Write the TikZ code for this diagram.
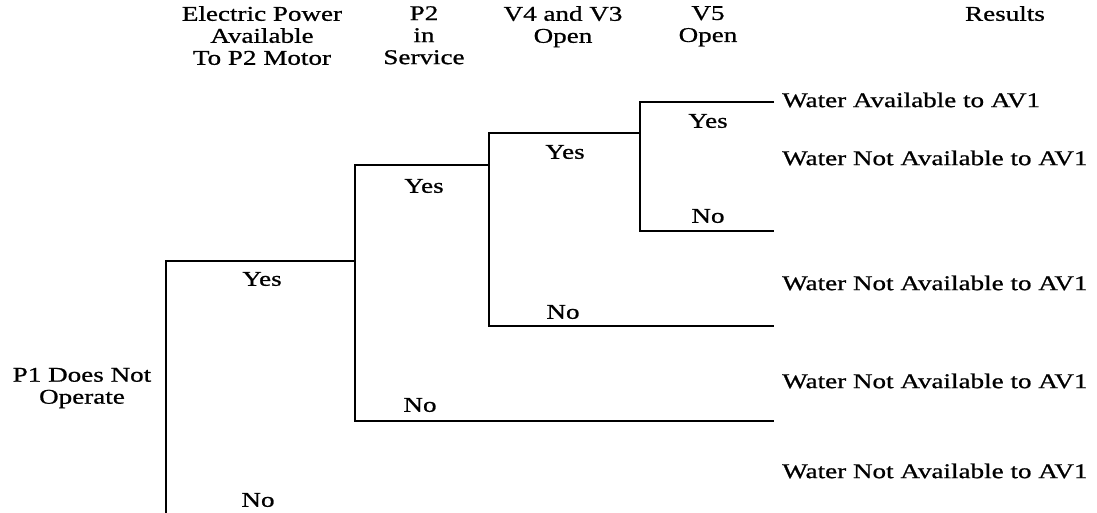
\documentclass[tikz,border=0pt]{standalone}
\usepackage{fontspec}
\setmainfont{Liberation Serif}[FakeStretch=1.29,FakeBold=0.8]
\begin{document}
\begin{tikzpicture}[x=1pt,y=-1pt,
  txt/.style={font=\fontsize{21}{22}\selectfont, inner sep=0pt, text=black},
  hdr/.style={txt, align=center, anchor=north},
  lbl/.style={txt, anchor=center},
  res/.style={txt, anchor=west},
  branch/.style={draw=black, line width=1.7pt, line join=miter}]
\useasboundingbox (0,0) rectangle (1097,513);
% branch points
\coordinate (rootB) at (166,513);
\coordinate (rootT) at (166,261);
\coordinate (p2M) at (355,261);
\coordinate (p2T) at (355,165);
\coordinate (p2B) at (355,421);
\coordinate (v4M) at (489,165);
\coordinate (v4T) at (489,133);
\coordinate (v4B) at (489,326);
\coordinate (v5M) at (640,133);
\coordinate (v5T) at (640,102);
\coordinate (v5B) at (640,231);
\coordinate (e1) at (774,102);
\coordinate (e2) at (774,231);
\coordinate (e3) at (774,326);
\coordinate (e4) at (774,421);
% tree
\draw[branch] (rootB) -- (rootT) -- (p2M);
\draw[branch] (v4M) -- (p2T) -- (p2B) -- (e4);
\draw[branch] (v5M) -- (v4T) -- (v4B) -- (e3);
\draw[branch] (e1) -- (v5T) -- (v5B) -- (e2);
% headers
\node[hdr] (h1) at (262,6) {Electric Power\\Available\\To P2 Motor};
\node[hdr] (h2) at (424,6) {P2\\in\\Service};
\node[hdr] (h3) at (563,6) {V4 and V3\\Open};
\node[hdr] (h4) at (708,6) {V5\\Open};
\node[hdr] (h5) at (1005,6) {Results};
% initiating event
\node[txt, align=center] (ie) at (82,388) {P1 Does Not\\Operate};
% branch labels
\node[lbl] (ry) at (262,279) {Yes};
\node[lbl] (rn) at (258,500) {No};
\node[lbl] (py) at (424,186) {Yes};
\node[lbl] (pn) at (420,405) {No};
\node[lbl] (vy) at (565,152) {Yes};
\node[lbl] (vn) at (563,312) {No};
\node[lbl] (wy) at (708,121) {Yes};
\node[lbl] (wn) at (708,216) {No};
% results
\node[res] (r1) at (782,100) {Water Available to AV1};
\node[res] (r2) at (782,158) {Water Not Available to AV1};
\node[res] (r3) at (782,283) {Water Not Available to AV1};
\node[res] (r4) at (782,381) {Water Not Available to AV1};
\node[res] (r5) at (782,471) {Water Not Available to AV1};
\end{tikzpicture}
\end{document}
